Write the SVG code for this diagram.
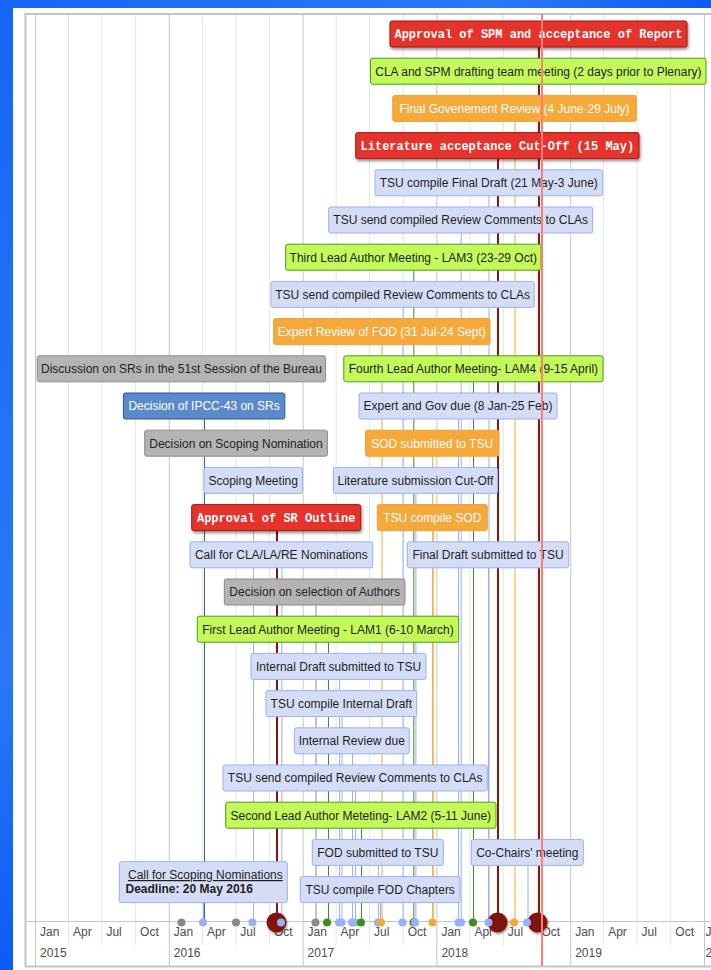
<svg xmlns="http://www.w3.org/2000/svg" width="711" height="970" viewBox="0 0 711 970">
<defs>
<linearGradient id="bg" x1="0" y1="0" x2="1" y2="1">
<stop offset="0" stop-color="#1566f7"/>
<stop offset="0.35" stop-color="#2a78f8"/>
<stop offset="0.5" stop-color="#0b5cf5"/>
<stop offset="1" stop-color="#0a57ef"/>
</linearGradient>
<filter id="sh" x="-20%" y="-40%" width="140%" height="200%">
<feDropShadow dx="1" dy="2" stdDeviation="1.5" flood-color="#000" flood-opacity="0.45"/>
</filter>
<filter id="dsh" x="-50%" y="-50%" width="200%" height="200%">
<feDropShadow dx="1" dy="1.5" stdDeviation="1.2" flood-color="#000" flood-opacity="0.4"/>
</filter>
<style>
.minor{stroke:#e5e5e5;stroke-width:1}
.major{stroke:#c6c6c6;stroke-width:1}
.al{font-family:"Liberation Sans",Arial,sans-serif;font-size:12px;fill:#4d4d4d}
.b rect{stroke-width:1}
.lav rect{fill:#D5DDF6;stroke:#97B0F8}
.grn rect{fill:#C4F95A;stroke:#4C9A1E}
.org rect{fill:#F5A93B;stroke:#F0A232}
.gry rect{fill:#B4B4B4;stroke:#8A8A8A}
.red rect{fill:#E5322A;stroke:#9B1C14;filter:url(#sh)}
.blu rect{fill:#5B8ACB;stroke:#2E5596}
.t{font-family:"Liberation Sans",Arial,sans-serif;font-size:12px;text-anchor:middle;fill:#1e1e1e}
.org .t,.blu .t{fill:#ffffff}
.gry .t{fill:#222}
.m{font-family:"Liberation Mono","Courier New",monospace;font-weight:bold;font-size:12px;text-anchor:middle;fill:#ffffff}
.c line{stroke-width:1}
.cl{stroke:#97B0F8}
.cg{stroke:#3E8E17}
.co{stroke:#F5A83A}
.cy{stroke:#8A8A8A}
.cr{stroke:#85160F;stroke-width:2!important}
.cb{stroke:#3C5A9A}
.dl{fill:#97B0F8}
.dg{fill:#3E8E17}
.do{fill:#F5A83A}
.dy{fill:#8A8A8A}
.db{fill:#97B0F8}
.dr{fill:#7E150F;filter:url(#dsh)}
</style>
</defs>
<rect x="0" y="0" width="711" height="970" fill="url(#bg)"/>
<rect x="13" y="8" width="698" height="962" fill="#ffffff"/>

<g id="grid">
<line class="minor" x1="68.5" y1="15" x2="68.5" y2="945"/>
<line class="minor" x1="101.9" y1="15" x2="101.9" y2="945"/>
<line class="minor" x1="135.6" y1="15" x2="135.6" y2="945"/>
<line class="minor" x1="202.6" y1="15" x2="202.6" y2="945"/>
<line class="minor" x1="235.8" y1="15" x2="235.8" y2="945"/>
<line class="minor" x1="269.5" y1="15" x2="269.5" y2="945"/>
<line class="minor" x1="336.1" y1="15" x2="336.1" y2="945"/>
<line class="minor" x1="369.5" y1="15" x2="369.5" y2="945"/>
<line class="minor" x1="403.2" y1="15" x2="403.2" y2="945"/>
<line class="minor" x1="469.9" y1="15" x2="469.9" y2="945"/>
<line class="minor" x1="503.3" y1="15" x2="503.3" y2="945"/>
<line class="minor" x1="537" y1="15" x2="537" y2="945"/>
<line class="minor" x1="603.7" y1="15" x2="603.7" y2="945"/>
<line class="minor" x1="637.1" y1="15" x2="637.1" y2="945"/>
<line class="minor" x1="670.8" y1="15" x2="670.8" y2="945"/>
<line class="major" x1="35.5" y1="15" x2="35.5" y2="966"/>
<line class="major" x1="169.3" y1="15" x2="169.3" y2="966"/>
<line class="major" x1="303.1" y1="15" x2="303.1" y2="966"/>
<line class="major" x1="436.9" y1="15" x2="436.9" y2="966"/>
<line class="major" x1="570.7" y1="15" x2="570.7" y2="966"/>
<line class="major" x1="704.5" y1="15" x2="704.5" y2="966"/>
<line x1="26" y1="921.5" x2="711" y2="921.5" stroke="#c6c6c6"/>
<path d="M711 14 H25.5 V966.5 H711" fill="none" stroke="#c4c4c4" stroke-width="2"/>
</g>

<g id="axis-labels" class="al">
<text x="40" y="936">Jan</text><text x="73" y="936">Apr</text><text x="106.4" y="936">Jul</text><text x="140.1" y="936">Oct</text>
<text x="173.8" y="936">Jan</text><text x="207.1" y="936">Apr</text><text x="240.3" y="936">Jul</text><text x="274" y="936">Oct</text>
<text x="307.6" y="936">Jan</text><text x="340.6" y="936">Apr</text><text x="374" y="936">Jul</text><text x="407.7" y="936">Oct</text>
<text x="441.4" y="936">Jan</text><text x="474.4" y="936">Apr</text><text x="507.8" y="936">Jul</text><text x="541.5" y="936">Oct</text>
<text x="575.2" y="936">Jan</text><text x="608.2" y="936">Apr</text><text x="641.6" y="936">Jul</text><text x="675.3" y="936">Oct</text>
<text x="705.5" y="936">J</text>
<text x="40" y="957">2015</text><text x="173.8" y="957">2016</text><text x="307.6" y="957">2017</text><text x="441.4" y="957">2018</text><text x="575.2" y="957">2019</text><text x="705.5" y="957">2</text>
</g>

<g id="connectors" class="c">
<line class="cg" x1="539" y1="84.2" x2="539" y2="921"/>
<line class="cr" x1="539" y1="47" x2="539" y2="921"/>
<line class="co" x1="515" y1="121.4" x2="515" y2="921"/>
<line class="cr" x1="498" y1="158.6" x2="498" y2="921"/>
<line class="cl" x1="489" y1="195.8" x2="489" y2="921"/>
<line class="cl" x1="461.2" y1="233" x2="461.2" y2="921"/>
<line class="cg" x1="413.8" y1="270.2" x2="413.8" y2="921"/>
<line class="cl" x1="403.1" y1="307.4" x2="403.1" y2="921"/>
<line class="co" x1="382" y1="344.6" x2="382" y2="921"/>
<line class="cg" x1="473.5" y1="381.8" x2="473.5" y2="921"/>
<line class="cb" x1="204.5" y1="419" x2="204.5" y2="921"/>
<line class="cl" x1="458.5" y1="419" x2="458.5" y2="921"/>
<line class="co" x1="432.7" y1="456.2" x2="432.7" y2="921"/>
<line class="cl" x1="253.5" y1="493.4" x2="253.5" y2="921"/>
<line class="cl" x1="415.9" y1="493.4" x2="415.9" y2="921"/>
<line class="cl" x1="281.8" y1="567.8" x2="281.8" y2="921"/>
<line class="cr" x1="277" y1="530.6" x2="277" y2="921"/>
<line class="co" x1="433.2" y1="530.6" x2="433.2" y2="921"/>
<line class="cl" x1="488.5" y1="567.8" x2="488.5" y2="921"/>
<line class="cy" x1="316" y1="605" x2="316" y2="921"/>
<line class="cg" x1="328.5" y1="642.2" x2="328.5" y2="921"/>
<line class="cl" x1="339.5" y1="679.4" x2="339.5" y2="921"/>
<line class="cl" x1="342" y1="716.6" x2="342" y2="921"/>
<line class="cl" x1="352.5" y1="753.8" x2="352.5" y2="921"/>
<line class="cl" x1="355.5" y1="791" x2="355.5" y2="921"/>
<line class="cg" x1="361.5" y1="828.2" x2="361.5" y2="921"/>
<line class="cl" x1="378.5" y1="865.4" x2="378.5" y2="921"/>
<line class="cl" x1="528" y1="865.4" x2="528" y2="921"/>
<line class="cl" x1="203.5" y1="902.6" x2="203.5" y2="921"/>
<line class="cl" x1="380.5" y1="902.6" x2="380.5" y2="921"/>
</g>

<g id="dots">
<circle class="dr" cx="276.5" cy="922.5" r="10"/>
<circle class="dr" cx="497.5" cy="922.5" r="10"/>
<circle class="dr" cx="537.5" cy="922.5" r="10"/>
<circle class="dy" cx="181.5" cy="922.5" r="4"/>
<circle class="db" cx="203" cy="922.5" r="4"/>
<circle class="dy" cx="236" cy="922.5" r="4"/>
<circle class="dl" cx="252.5" cy="922.5" r="4"/>
<circle class="dl" cx="281" cy="922.5" r="4"/>
<circle class="dy" cx="315.5" cy="922.5" r="4"/>
<circle class="dg" cx="327" cy="922.5" r="4"/>
<circle class="dl" cx="339" cy="922.5" r="4"/>
<circle class="dl" cx="341.5" cy="922.5" r="4"/>
<circle class="dl" cx="352" cy="922.5" r="4"/>
<circle class="dl" cx="355" cy="922.5" r="4"/>
<circle class="dg" cx="361" cy="922.5" r="4"/>
<circle class="dl" cx="378" cy="922.5" r="4"/>
<circle class="do" cx="381" cy="922.5" r="4"/>
<circle class="dl" cx="402.5" cy="922.5" r="4"/>
<circle class="dg" cx="413.5" cy="922.5" r="4"/>
<circle class="dl" cx="415" cy="922.5" r="4"/>
<circle class="do" cx="432.5" cy="922.5" r="4"/>
<circle class="dl" cx="458.5" cy="922.5" r="4"/>
<circle class="dl" cx="461" cy="922.5" r="4"/>
<circle class="dg" cx="473" cy="922.5" r="4"/>
<circle class="dl" cx="488.5" cy="922.5" r="4"/>
<circle class="do" cx="514" cy="922.5" r="4"/>
<circle class="dl" cx="527" cy="922.5" r="4"/>
</g>

<g id="n0" class="b red"><rect x="390" y="21" width="297" height="26" rx="2"/><text class="m" x="538.5" y="38.3">Approval of SPM and acceptance of Report</text></g>
<g id="n1" class="b grn"><rect x="370.5" y="58.2" width="335.5" height="26" rx="2"/><text class="t" x="538.3" y="75.5">CLA and SPM drafting team meeting (2 days prior to Plenary)</text></g>
<g id="n2" class="b org"><rect x="392.7" y="95.4" width="243.6" height="26" rx="2"/><text class="t" x="514.5" y="112.7">Final Govenement Review (4 June-29 July)</text></g>
<g id="n3" class="b red"><rect x="355.7" y="132.6" width="283.3" height="26" rx="2"/><text class="m" x="497.4" y="149.9">Literature acceptance Cut-Off (15 May)</text></g>
<g id="n4" class="b lav"><rect x="375" y="169.8" width="227.7" height="26" rx="2"/><text class="t" x="488.8" y="187.1">TSU compile Final Draft (21 May-3 June)</text></g>
<g id="n5" class="b lav"><rect x="328.7" y="207" width="264" height="26" rx="2"/><text class="t" x="460.7" y="224.3">TSU send compiled Review Comments to CLAs</text></g>
<g id="n6" class="b grn"><rect x="285.7" y="244.2" width="255.3" height="26" rx="2"/><text class="t" x="413.3" y="261.5">Third Lead Author Meeting - LAM3 (23-29 Oct)</text></g>
<g id="n7" class="b lav"><rect x="271" y="281.4" width="263.3" height="26" rx="2"/><text class="t" x="402.6" y="298.7">TSU send compiled Review Comments to CLAs</text></g>
<g id="n8" class="b org"><rect x="273.5" y="318.6" width="216.5" height="26" rx="2"/><text class="t" x="381.7" y="335.9">Expert Review of FOD (31 Jul-24 Sept)</text></g>
<g id="n9" class="b gry"><rect x="37.2" y="355.8" width="288.4" height="26" rx="2"/><text class="t" x="181.4" y="373.1">Discussion on SRs in the 51st Session of the Bureau</text></g>
<g id="n10" class="b grn"><rect x="343.8" y="355.8" width="259.2" height="26" rx="2"/><text class="t" x="473.4" y="373.1">Fourth Lead Author Meeting- LAM4 (9-15 April)</text></g>
<g id="n11" class="b blu"><rect x="123.4" y="393" width="161.4" height="26" rx="2"/><text class="t" x="204.1" y="410.3">Decision of IPCC-43 on SRs</text></g>
<g id="n12" class="b lav"><rect x="359" y="393" width="198" height="26" rx="2"/><text class="t" x="458" y="410.3">Expert and Gov due (8 Jan-25 Feb)</text></g>
<g id="n13" class="b gry"><rect x="144.7" y="430.2" width="182.7" height="26" rx="2"/><text class="t" x="236" y="447.5">Decision on Scoping Nomination</text></g>
<g id="n14" class="b org"><rect x="365.5" y="430.2" width="133.5" height="26" rx="2"/><text class="t" x="432.2" y="447.5">SOD submitted to TSU</text></g>
<g id="n15" class="b lav"><rect x="204" y="467.4" width="98.5" height="26" rx="2"/><text class="t" x="253.2" y="484.7">Scoping Meeting</text></g>
<g id="n16" class="b lav"><rect x="333.3" y="467.4" width="164.2" height="26" rx="2"/><text class="t" x="415.4" y="484.7">Literature submission Cut-Off</text></g>
<g id="n17" class="b red"><rect x="191.7" y="504.6" width="169" height="26" rx="2"/><text class="m" x="276.2" y="521.9">Approval of SR Outline</text></g>
<g id="n18" class="b org"><rect x="377.3" y="504.6" width="110" height="26" rx="2"/><text class="t" x="432.3" y="521.9">TSU compile SOD</text></g>
<g id="n19" class="b lav"><rect x="190" y="541.8" width="182.7" height="26" rx="2"/><text class="t" x="281.3" y="559.1">Call for CLA/LA/RE Nominations</text></g>
<g id="n20" class="b lav"><rect x="407.3" y="541.8" width="161.4" height="26" rx="2"/><text class="t" x="488" y="559.1">Final Draft submitted to TSU</text></g>
<g id="n21" class="b gry"><rect x="224.3" y="579" width="180.7" height="26" rx="2"/><text class="t" x="314.7" y="596.3">Decision on selection of Authors</text></g>
<g id="n22" class="b grn"><rect x="197.3" y="616.2" width="261.4" height="26" rx="2"/><text class="t" x="328" y="633.5">First Lead Author Meeting - LAM1 (6-10 March)</text></g>
<g id="n23" class="b lav"><rect x="251" y="653.4" width="175" height="26" rx="2"/><text class="t" x="338.5" y="670.7">Internal Draft submitted to TSU</text></g>
<g id="n24" class="b lav"><rect x="266" y="690.6" width="150.7" height="26" rx="2"/><text class="t" x="341.3" y="707.9">TSU compile Internal Draft</text></g>
<g id="n25" class="b lav"><rect x="294.3" y="727.8" width="115" height="26" rx="2"/><text class="t" x="351.8" y="745.1">Internal Review due</text></g>
<g id="n26" class="b lav"><rect x="223" y="765" width="264.3" height="26" rx="2"/><text class="t" x="355.2" y="782.3">TSU send compiled Review Comments to CLAs</text></g>
<g id="n27" class="b grn"><rect x="225.7" y="802.2" width="270.3" height="26" rx="2"/><text class="t" x="360.8" y="819.5">Second Lead Author Meteting- LAM2 (5-11 June)</text></g>
<g id="n28" class="b lav"><rect x="312.3" y="839.4" width="131" height="26" rx="2"/><text class="t" x="377.8" y="856.7">FOD submitted to TSU</text></g>
<g id="n29" class="b lav"><rect x="471.3" y="839.4" width="112" height="26" rx="2"/><text class="t" x="527.3" y="856.7">Co-Chairs' meeting</text></g>
<g id="n30" class="b lav"><rect x="119.3" y="861.7" width="168" height="40.9" rx="2"/><text class="t" x="128" y="879" style="text-anchor:start" text-decoration="underline">Call for Scoping Nominations</text><text class="t" x="125.5" y="893" style="text-anchor:start;font-weight:bold">Deadline: 20 May 2016</text></g>
<g id="n31" class="b lav"><rect x="300.3" y="876.6" width="159.7" height="26" rx="2"/><text class="t" x="380.2" y="893.9">TSU compile FOD Chapters</text></g>

<g id="current-time"><rect x="541" y="14" width="2" height="952" fill="#FF7F6E"/></g>
</svg>
